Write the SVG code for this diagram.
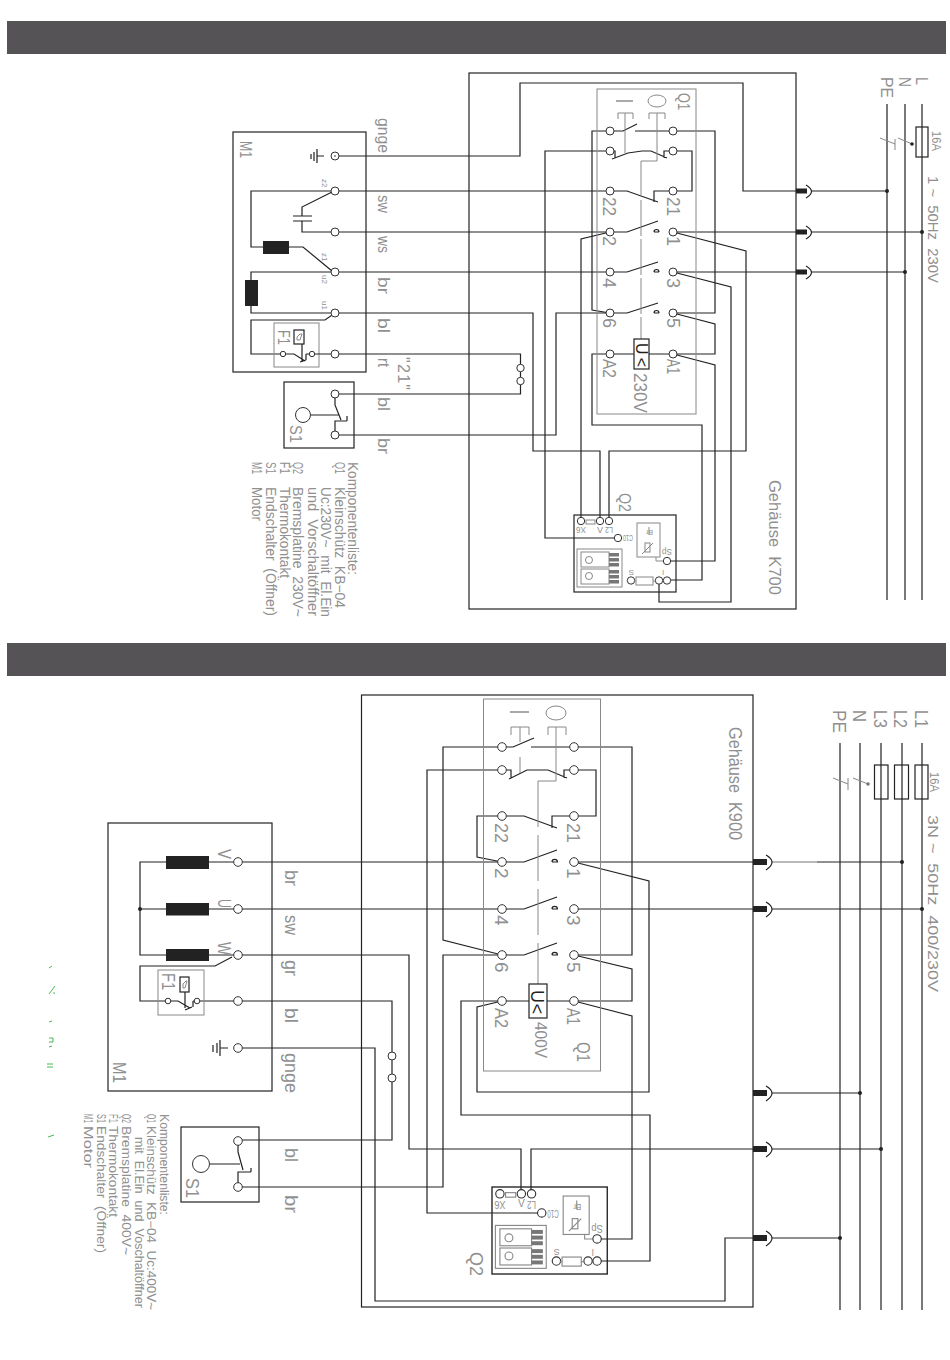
<svg xmlns="http://www.w3.org/2000/svg" width="950" height="1360" viewBox="0 0 950 1360">
<style>
.w{fill:none;stroke:#222;stroke-width:1.2}
.g{fill:none;stroke:#888;stroke-width:1}
.t{fill:#fff;stroke:#333;stroke-width:1}
.k{fill:#222;stroke:none}
.s{fill:#777;stroke:none}
.y{fill:none;stroke:#44bb55;stroke-width:1}
text{font-family:"Liberation Sans",Arial,sans-serif;fill:#909090;font-size:16px;white-space:pre}
.f8{font-size:8px}.f9{font-size:9px}.f12{font-size:12px}.f13{font-size:13px}.f14{font-size:14px}.f17{font-size:17px}.f18{font-size:18px}.f19{font-size:19px}
.dk{fill:#222}
</style>
<rect x="7" y="21" width="939" height="33" fill="#555355"/>
<rect x="7" y="643" width="939" height="33" fill="#555355"/>

<g id="wires-top">
<path class="w" d="M335,156H520V83H743V191H796"/>
<path class="w" d="M335,191H610M610,191H627L658,202M654,202V191H692V151H673"/>
<path class="w" d="M335,232H627L658,221M654,232H659M654,232a2.5,2.5 0 0 1 5,0M673,232H796"/>
<path class="w" d="M335,272H627L658,262M654,272H659M654,272a2.5,2.5 0 0 1 5,0M673,272H796"/>
<path class="w" d="M335,313H533V451H600V521"/>
<path class="w" d="M610,313H556V435H335M610,313H627L658,303M654,313H659M654,313a2.5,2.5 0 0 1 5,0"/>
<path class="w" d="M673,313H715V131H635"/>
<path class="w" d="M673,313L715,324V354H649M634,354H592V425H702V580H667"/>
<path class="w" d="M673,354L715,365V561H667"/>
<path class="w" d="M673,232L746,251V451H609V521"/>
<path class="w" d="M673,272L731,287V602H659V580"/>
<path class="w" d="M610,131H592V310L610,313M610,131H623L637,124"/>
<path class="w" d="M610,151H545V538H614L618,538"/>
<path class="w" d="M610,232L581,239V521"/>
<path class="w" d="M335,354H520.5V394H335"/>
<path class="w" d="M610,151H615V158M612,159L628,153L642,151H651L667,158M664,158V151H673"/>
<path class="w" d="M811,191H887M811,232H922M811,272H905"/>
</g>

<g id="wires-bottom">
<path class="w" d="M238,862H524L557,850M552,862H558M552,862a2.7,2.7 0 0 1 5.4,0M574,862H753"/>
<path class="w" d="M238,909H524L557,897M552,909H558M552,909a2.7,2.7 0 0 1 5.4,0M574,909H753"/>
<path class="w" d="M238,955H409V1149H521V1190"/>
<path class="w" d="M238,1001H392V1140H238"/>
<path class="w" d="M238,1048H375V1301H725V1238H753"/>
<path class="w" d="M238,1187H443V955H524L557,943M552,955H558M552,955a2.7,2.7 0 0 1 5.4,0"/>
<path class="w" d="M531,1190V1149H753"/>
<path class="w" d="M502,747H443V940L502,955M502,747H513L534,738M531,747H632V955H574"/>
<path class="w" d="M574,955L632,969V1001H547M529,1001H461V1115H650V1261H597"/>
<path class="w" d="M574,1001L632,1016V1239H597"/>
<path class="w" d="M502,1001L477,1007V1092H649V881L574,862"/>
<path class="w" d="M502,770H427V1213H538"/>
<path class="w" d="M502,770H511V778M509,779L527,770H548L567,778M564,778V770H574"/>
<path class="w" d="M502,816H477V857L502,862M502,816H524L557,828M552,828V816H596V770H574"/>
<path class="w" d="M817,862H902M772,909H922M772,1093H860M772,1149H881M772,1238H840"/>
<path d="M772,862H817" fill="none" stroke="#777" stroke-width="1.2"/>
</g>

<g id="enclosure-k700">
<rect class="w" x="469" y="73" width="327" height="536"/>
<text transform="translate(769,480) rotate(90)" class="f17" textLength="115" lengthAdjust="spacingAndGlyphs">Gehäuse  K700</text>
</g>

<g id="mains-top">
<path class="w" d="M887,104V600M905,104V600M922,104V600"/>
<rect class="w" x="916" y="127" width="12" height="30"/>
<path class="g" d="M912,144L898,138M880,138L895,144M895,139V150"/>
<circle cx="912" cy="144" r="1.8" class="k"/>
<circle cx="887" cy="191" r="2" class="k"/><circle cx="922" cy="232" r="2" class="k"/><circle cx="905" cy="272" r="2" class="k"/>
<text transform="translate(916,77) rotate(90)" class="f17" textLength="8" lengthAdjust="spacingAndGlyphs">L</text>
<text transform="translate(899,77) rotate(90)" class="f17" textLength="10" lengthAdjust="spacingAndGlyphs">N</text>
<text transform="translate(881,77) rotate(90)" class="f17" textLength="21" lengthAdjust="spacingAndGlyphs">PE</text>
<text transform="translate(932,131) rotate(90)" class="f13" textLength="20" lengthAdjust="spacingAndGlyphs">16A</text>
<text transform="translate(928,176) rotate(90)" class="f14" textLength="107" lengthAdjust="spacingAndGlyphs">1 ~  50Hz  230V</text>
</g>

<g id="terminals-top-conn">
<rect class="k" x="796" y="188.5" width="11" height="5"/><path class="w" d="M806,185Q817,191.5 806,198"/>
<rect class="k" x="796" y="229.5" width="11" height="5"/><path class="w" d="M806,226Q817,232.5 806,239"/>
<rect class="k" x="796" y="269.5" width="11" height="5"/><path class="w" d="M806,266Q817,272.5 806,279"/>
</g>

<g id="M1-top">
<rect class="w" x="233" y="132" width="133" height="240"/>
<path class="w" d="M324,156H317M317,149V163M314,152V161M311,154V159"/>
<path class="w" d="M335,191H251V247H263M289,247H303L332,271"/>
<path class="w" d="M332,192L302,207V216M293,216H312M293,221H312M302,221V232H335"/>
<rect class="k" x="263" y="241" width="26" height="13"/>
<rect class="k" x="245" y="280" width="13" height="26"/>
<path class="w" d="M335,272H251V280M251,306V313H335"/>
<path class="w" d="M335,313L325,320H251V354H281"/>
<rect class="g" x="274" y="323" width="45" height="44"/>
<rect class="w" x="294" y="330" width="10" height="14"/>
<path class="g" d="M297,337L300,334H302L300,340H297Z"/>
<path class="w" d="M286,354H294L305,361M302,344V362M300,362L306,360M306,354V360M306,354H310M315,354H335"/>
<circle class="t" cx="283" cy="354" r="2.7"/><circle class="t" cx="312" cy="354" r="2.7"/>
<circle class="t" cx="335" cy="156" r="4"/><circle cx="335" cy="156" r="0.8" class="k"/>
<circle class="t" cx="335" cy="191" r="4"/><circle class="t" cx="335" cy="232" r="4"/><circle class="t" cx="335" cy="272" r="4"/><circle class="t" cx="335" cy="313" r="4"/><circle class="t" cx="335" cy="354" r="4"/>
<text transform="translate(240,141) rotate(90)" textLength="17" lengthAdjust="spacingAndGlyphs">M1</text>
<text transform="translate(278,330) rotate(90)" textLength="15" lengthAdjust="spacingAndGlyphs">F1</text>
<text transform="translate(322,179) rotate(90)" class="f8">z2</text>
<text transform="translate(322,253) rotate(90)" class="f8">z1</text>
<text transform="translate(322,275) rotate(90)" class="f8">u2</text>
<text transform="translate(322,301) rotate(90)" class="f8">u1</text>
<text transform="translate(378,118) rotate(90)" textLength="35" lengthAdjust="spacingAndGlyphs">gnge</text>
<text transform="translate(378,195) rotate(90)" textLength="18" lengthAdjust="spacingAndGlyphs">sw</text>
<text transform="translate(378,236) rotate(90)" textLength="17" lengthAdjust="spacingAndGlyphs">ws</text>
<text transform="translate(378,277) rotate(90)" textLength="17" lengthAdjust="spacingAndGlyphs">br</text>
<text transform="translate(378,318) rotate(90)" textLength="15" lengthAdjust="spacingAndGlyphs">bl</text>
<text transform="translate(378,358) rotate(90)" textLength="9" lengthAdjust="spacingAndGlyphs">rt</text>
</g>

<g id="link-21-top">
<circle class="t" cx="520.5" cy="368" r="3.7"/><circle class="t" cx="520.5" cy="381" r="3.7"/>
<text transform="translate(398,357) rotate(90)" textLength="33">"21"</text>
</g>

<g id="S1-top">
<rect class="w" x="284" y="382" width="70" height="66"/>
<circle class="t" cx="303" cy="415" r="7.5"/>
<path class="w" d="M311,415H339M335,398V405L341,420M335,431V421H347M347,421V416"/>
<circle class="t" cx="335" cy="394" r="4"/><circle class="t" cx="335" cy="435" r="4"/>
<text transform="translate(290,425) rotate(90)" textLength="18" lengthAdjust="spacingAndGlyphs">S1</text>
<text transform="translate(378,397) rotate(90)" textLength="14" lengthAdjust="spacingAndGlyphs">bl</text>
<text transform="translate(378,438) rotate(90)" textLength="16" lengthAdjust="spacingAndGlyphs">br</text>
</g>

<g id="parts-list-top">
<text transform="translate(348,462) rotate(90)" class="f14" textLength="113" lengthAdjust="spacingAndGlyphs">Komponentenliste:</text>
<text transform="translate(335,462) rotate(90)" class="f14" textLength="12" lengthAdjust="spacingAndGlyphs">Q1</text>
<text transform="translate(335,487) rotate(90)" class="f14" textLength="121" lengthAdjust="spacingAndGlyphs">Kleinschütz  KB−04</text>
<text transform="translate(321,487) rotate(90)" class="f14" textLength="130" lengthAdjust="spacingAndGlyphs">Uc:230V~  mit  El.Ein</text>
<text transform="translate(308,487) rotate(90)" class="f14" textLength="129" lengthAdjust="spacingAndGlyphs">und  Vorschaltöffner</text>
<text transform="translate(293,462) rotate(90)" class="f14" textLength="12" lengthAdjust="spacingAndGlyphs">Q2</text>
<text transform="translate(293,487) rotate(90)" class="f14" textLength="130" lengthAdjust="spacingAndGlyphs">Bremsplatine  230V~</text>
<text transform="translate(280,462) rotate(90)" class="f14" textLength="12" lengthAdjust="spacingAndGlyphs">F1</text>
<text transform="translate(280,487) rotate(90)" class="f14" textLength="91" lengthAdjust="spacingAndGlyphs">Thermokontakt</text>
<text transform="translate(266,462) rotate(90)" class="f14" textLength="12" lengthAdjust="spacingAndGlyphs">S1</text>
<text transform="translate(266,487) rotate(90)" class="f14" textLength="129" lengthAdjust="spacingAndGlyphs">Endschalter  (Öffner)</text>
<text transform="translate(252,462) rotate(90)" class="f14" textLength="12" lengthAdjust="spacingAndGlyphs">M1</text>
<text transform="translate(252,487) rotate(90)" class="f14" textLength="34" lengthAdjust="spacingAndGlyphs">Motor</text>
</g>

<g id="Q1-top">
<rect class="g" x="597" y="89" width="99" height="325"/>
<path d="M616,101H633" stroke="#555" stroke-width="1" fill="none"/>
<ellipse class="g" cx="657" cy="101" rx="9" ry="6" stroke-width="1.2"/>
<path class="g" d="M618,119V113H633V119M625,113V153M649,119V113H665V119M657,113V161H641"/>
<path class="g" d="M641,161V339" stroke-dasharray="36 3"/>
<rect x="634" y="339" width="15" height="30" fill="#fff" stroke="#222" stroke-width="1.2"/>
<text transform="translate(636,343) rotate(90)" class="dk" textLength="24">U&lt;</text>
<circle class="t" cx="610" cy="131" r="4"/><circle class="t" cx="673" cy="131" r="4"/>
<circle class="t" cx="610" cy="151" r="4"/><circle class="t" cx="673" cy="151" r="4"/>
<circle class="t" cx="610" cy="191" r="4"/><circle class="t" cx="673" cy="191" r="4"/>
<circle class="t" cx="610" cy="232" r="4"/><circle class="t" cx="673" cy="232" r="4"/>
<circle class="t" cx="610" cy="272" r="4"/><circle class="t" cx="673" cy="272" r="4"/>
<circle class="t" cx="610" cy="313" r="4"/><circle class="t" cx="673" cy="313" r="4"/>
<circle class="t" cx="610" cy="354" r="4"/><circle class="t" cx="673" cy="354" r="4"/>
<text transform="translate(678,93) rotate(90)" textLength="17" lengthAdjust="spacingAndGlyphs">Q1</text>
<text transform="translate(603,197) rotate(90)" class="f18" textLength="19" lengthAdjust="spacingAndGlyphs">22</text>
<text transform="translate(667,197) rotate(90)" class="f18" textLength="19" lengthAdjust="spacingAndGlyphs">21</text>
<text transform="translate(603,236) rotate(90)" class="f18">2</text>
<text transform="translate(667,236) rotate(90)" class="f18">1</text>
<text transform="translate(603,278) rotate(90)" class="f18">4</text>
<text transform="translate(667,278) rotate(90)" class="f18">3</text>
<text transform="translate(603,318) rotate(90)" class="f18">6</text>
<text transform="translate(667,318) rotate(90)" class="f18">5</text>
<text transform="translate(603,359) rotate(90)" class="f18" textLength="19" lengthAdjust="spacingAndGlyphs">A2</text>
<text transform="translate(667,359) rotate(90)" class="f18" textLength="15" lengthAdjust="spacingAndGlyphs">A1</text>
<text transform="translate(634,373) rotate(90)" class="f18" textLength="40" lengthAdjust="spacingAndGlyphs">230V</text>
</g>

<g id="Q2-top">
<rect class="w" x="574" y="515" width="102" height="77"/>
<rect class="g" x="586" y="520" width="9" height="4"/>
<circle class="t" cx="581" cy="521" r="3.7"/><circle class="t" cx="600" cy="521" r="3.7"/><circle class="t" cx="609" cy="521" r="3.7"/>
<circle class="t" cx="618" cy="538" r="3.7"/>
<rect class="g" x="637" y="523" width="23" height="34"/>
<rect class="g" x="645" y="543" width="5" height="9"/>
<path class="g" d="M642,554L653,543M649,527V535M656,557V561H663"/>
<circle class="t" cx="667" cy="561" r="3.7"/><circle class="t" cx="667" cy="580.5" r="3.7"/><circle class="t" cx="659" cy="580.5" r="3.7"/><circle class="t" cx="631" cy="580.5" r="3.7"/>
<rect class="g" x="636" y="577" width="17" height="8"/>
<path class="g" d="M653,581H655M634,581H636"/>
<rect class="g" x="577" y="549" width="45" height="38"/>
<rect class="g" x="581" y="552" width="28" height="15"/>
<rect class="g" x="581" y="569" width="28" height="15"/>
<circle class="g" cx="589" cy="560" r="3.5"/><circle class="g" cx="589" cy="576" r="3.5"/>
<rect class="s" x="609" y="553" width="10" height="3.5"/><rect class="s" x="609" y="558" width="10" height="3.5"/><rect class="s" x="609" y="563" width="10" height="3.5"/>
<rect class="s" x="609" y="570" width="10" height="3.5"/><rect class="s" x="609" y="575" width="10" height="3.5"/><rect class="s" x="609" y="580" width="10" height="3.5"/>
<text transform="translate(586,527) rotate(180)" class="f9" textLength="10" lengthAdjust="spacingAndGlyphs">X6</text>
<text x="597" y="533" class="f9">V</text>
<text transform="translate(613,527) rotate(180)" class="f9" textLength="8" lengthAdjust="spacingAndGlyphs">L2</text>
<text transform="translate(633,535) rotate(180)" class="f9" textLength="10" lengthAdjust="spacingAndGlyphs">C10</text>
<text transform="translate(653,530) rotate(180)" class="f8" textLength="7" lengthAdjust="spacingAndGlyphs">Br</text>
<text transform="translate(672,549) rotate(180)" class="f9" textLength="10" lengthAdjust="spacingAndGlyphs">Sp</text>
<text transform="translate(664,570) rotate(180)" class="f8">l</text>
<text transform="translate(634,570) rotate(180)" class="f8">S</text>
<text transform="translate(619,493) rotate(90)" textLength="19" lengthAdjust="spacingAndGlyphs">Q2</text>
</g>

<g id="enclosure-k900">
<rect class="w" x="361.5" y="695" width="391.5" height="612"/>
<text transform="translate(729,727) rotate(90)" class="f18" textLength="113" lengthAdjust="spacingAndGlyphs">Gehäuse  K900</text>
</g>

<g id="mains-bottom">
<path class="w" d="M922,743V1310M902,743V1310M881,743V1310M860,743V1310M840,743V1310"/>
<rect class="w" x="915" y="765" width="13" height="34"/>
<rect class="w" x="894.500" y="765" width="14" height="34"/>
<rect class="w" x="874.500" y="765" width="13.500" height="34"/>
<path class="g" d="M868,784L853,778M833,778L848,784M848,778V790"/>
<circle cx="868" cy="784" r="1.800" fill="#777"/>
<circle cx="902" cy="862" r="2" class="k"/><circle cx="922" cy="909" r="2" class="k"/><circle cx="860" cy="1093" r="2" class="k"/><circle cx="881" cy="1149" r="2" class="k"/><circle cx="840" cy="1238" r="2" class="k"/>
<text transform="translate(915,710) rotate(90)" class="f19" textLength="18" lengthAdjust="spacingAndGlyphs">L1</text>
<text transform="translate(894,710) rotate(90)" class="f19" textLength="18" lengthAdjust="spacingAndGlyphs">L2</text>
<text transform="translate(874,710) rotate(90)" class="f19" textLength="18" lengthAdjust="spacingAndGlyphs">L3</text>
<text transform="translate(853,710) rotate(90)" class="f19" textLength="12" lengthAdjust="spacingAndGlyphs">N</text>
<text transform="translate(833,710) rotate(90)" class="f19" textLength="23" lengthAdjust="spacingAndGlyphs">PE</text>
<text transform="translate(930,772) rotate(90)" class="f13" textLength="20" lengthAdjust="spacingAndGlyphs">16A</text>
<text transform="translate(928,815) rotate(90)" class="f14" textLength="177" lengthAdjust="spacingAndGlyphs">3N ~  50Hz  400/230V</text>
</g>

<g id="terminals-bottom-conn">
<rect class="k" x="753" y="859" width="14" height="6"/><path class="w" d="M766,855Q778,862 766,870"/>
<rect class="k" x="753" y="906" width="14" height="6"/><path class="w" d="M766,902Q778,909 766,917"/>
<rect class="k" x="753" y="1090" width="14" height="6"/><path class="w" d="M766,1086Q778,1093 766,1101"/>
<rect class="k" x="753" y="1146" width="14" height="6"/><path class="w" d="M766,1142Q778,1149 766,1157"/>
<rect class="k" x="753" y="1235" width="14" height="6"/><path class="w" d="M766,1231Q778,1238 766,1246"/>
</g>

<g id="M1-bottom">
<rect class="w" x="108" y="823" width="164" height="268"/>
<path class="w" d="M238,862H140V955H238M140,909H238"/>
<rect class="k" x="166" y="856" width="43" height="13"/>
<rect class="k" x="166" y="903" width="43" height="12.500"/>
<rect class="k" x="166" y="949" width="43" height="12"/>
<circle cx="140" cy="909" r="2" class="k"/>
<path class="w" d="M232,957L215,966H140V1001H165M199,1001H238"/>
<rect class="g" x="158" y="970" width="46" height="45"/>
<rect class="w" x="180" y="977" width="9" height="15"/>
<path class="g" d="M183,984L186,981H187L185,988H183Z"/>
<path class="w" d="M171,1001H178L190,1008M185,992V1008M185,1010L192,1007M193,1001V1007M193,1001H195"/>
<circle class="t" cx="168" cy="1001" r="2.800"/><circle class="t" cx="197" cy="1001" r="2.800"/>
<path class="w" d="M228,1048H220M220,1040V1056M217,1043V1053M213,1045V1052"/>
<circle class="t" cx="238" cy="862" r="4.300"/><circle class="t" cx="238" cy="909" r="4.300"/><circle class="t" cx="238" cy="955" r="4.300"/><circle class="t" cx="238" cy="1001" r="4.300"/><circle class="t" cx="238" cy="1048" r="4.300"/>
<text transform="translate(113,1062) rotate(90)" class="f19" textLength="21" lengthAdjust="spacingAndGlyphs">M1</text>
<text transform="translate(162,973) rotate(90)" class="f19" textLength="17" lengthAdjust="spacingAndGlyphs">F1</text>
<text transform="translate(218,849) rotate(90)" class="f18" textLength="10" lengthAdjust="spacingAndGlyphs">V</text>
<text transform="translate(218,899) rotate(90)" class="f18" textLength="9" lengthAdjust="spacingAndGlyphs">U</text>
<text transform="translate(218,942) rotate(90)" class="f18" textLength="13" lengthAdjust="spacingAndGlyphs">W</text>
<text transform="translate(285,870) rotate(90)" class="f18" textLength="16" lengthAdjust="spacingAndGlyphs">br</text>
<text transform="translate(285,915) rotate(90)" class="f18" textLength="20" lengthAdjust="spacingAndGlyphs">sw</text>
<text transform="translate(285,960) rotate(90)" class="f18" textLength="16" lengthAdjust="spacingAndGlyphs">gr</text>
<text transform="translate(285,1008) rotate(90)" class="f18" textLength="15" lengthAdjust="spacingAndGlyphs">bl</text>
<text transform="translate(285,1053) rotate(90)" class="f18" textLength="40" lengthAdjust="spacingAndGlyphs">gnge</text>
</g>

<g id="link-bottom">
<circle class="t" cx="392" cy="1056" r="4"/><circle class="t" cx="392" cy="1078" r="4"/>
</g>

<g id="S1-bottom">
<rect class="w" x="181" y="1127" width="78" height="75"/>
<circle class="t" cx="201" cy="1164" r="8.500"/>
<path class="w" d="M210,1164H240M238,1145V1152L243,1170M238,1183V1172H251M251,1172V1168"/>
<circle class="t" cx="238" cy="1141" r="4.300"/><circle class="t" cx="238" cy="1187" r="4.300"/>
<text transform="translate(186,1178) rotate(90)" class="f19" textLength="20" lengthAdjust="spacingAndGlyphs">S1</text>
<text transform="translate(285,1148) rotate(90)" class="f18" textLength="14" lengthAdjust="spacingAndGlyphs">bl</text>
<text transform="translate(285,1195) rotate(90)" class="f18" textLength="18" lengthAdjust="spacingAndGlyphs">br</text>
</g>

<g id="parts-list-bottom">
<text transform="translate(160,1114) rotate(90)" class="f12" textLength="101" lengthAdjust="spacingAndGlyphs">Komponentenliste:</text>
<text transform="translate(147,1114) rotate(90)" class="f12" textLength="9" lengthAdjust="spacingAndGlyphs">Q1</text>
<text transform="translate(147,1126) rotate(90)" class="f12" textLength="184" lengthAdjust="spacingAndGlyphs">Kleinschütz  KB−04  Uc:400V~</text>
<text transform="translate(135,1137) rotate(90)" class="f12" textLength="171" lengthAdjust="spacingAndGlyphs">mit  El.Ein  und  Voschaltöffner</text>
<text transform="translate(122,1114) rotate(90)" class="f12" textLength="9" lengthAdjust="spacingAndGlyphs">Q2</text>
<text transform="translate(122,1126) rotate(90)" class="f12" textLength="129" lengthAdjust="spacingAndGlyphs">Bremsplatine  400V~</text>
<text transform="translate(109,1114) rotate(90)" class="f12" textLength="9" lengthAdjust="spacingAndGlyphs">F1</text>
<text transform="translate(109,1126) rotate(90)" class="f12" textLength="91" lengthAdjust="spacingAndGlyphs">Thermokontakt</text>
<text transform="translate(97,1114) rotate(90)" class="f12" textLength="9" lengthAdjust="spacingAndGlyphs">S1</text>
<text transform="translate(97,1126) rotate(90)" class="f12" textLength="127" lengthAdjust="spacingAndGlyphs">Endschalter  (Öffner)</text>
<text transform="translate(84,1114) rotate(90)" class="f12" textLength="9" lengthAdjust="spacingAndGlyphs">M1</text>
<text transform="translate(84,1126) rotate(90)" class="f12" textLength="42" lengthAdjust="spacingAndGlyphs">Motor</text>
</g>

<g id="Q1-bottom">
<rect class="g" x="483.500" y="699" width="117" height="372"/>
<path d="M510,712H529" stroke="#555" stroke-width="1" fill="none"/>
<ellipse class="g" cx="556" cy="713" rx="10" ry="7" stroke-width="1.2"/>
<path class="g" d="M511,735V727H529V735M520,727V742M520,757V773M548,735V727H566V735M556,727V781H538"/>
<path class="g" d="M538,781V984" stroke-dasharray="46 8"/>
<rect x="529" y="984" width="18" height="34" fill="#fff" stroke="#222" stroke-width="1.200"/>
<text transform="translate(531,990) rotate(90)" class="dk f18" textLength="24">U&lt;</text>
<circle class="t" cx="502" cy="747" r="4.300"/><circle class="t" cx="574" cy="747" r="4.300"/>
<circle class="t" cx="502" cy="770" r="4.300"/><circle class="t" cx="574" cy="770" r="4.300"/>
<circle class="t" cx="502" cy="816" r="4.300"/><circle class="t" cx="574" cy="816" r="4.300"/>
<circle class="t" cx="502" cy="862" r="4.300"/><circle class="t" cx="574" cy="862" r="4.300"/>
<circle class="t" cx="502" cy="909" r="4.300"/><circle class="t" cx="574" cy="909" r="4.300"/>
<circle class="t" cx="502" cy="955" r="4.300"/><circle class="t" cx="574" cy="955" r="4.300"/>
<circle class="t" cx="502" cy="1001" r="4.300"/><circle class="t" cx="574" cy="1001" r="4.300"/>
<text transform="translate(495,823) rotate(90)" class="f19" textLength="20" lengthAdjust="spacingAndGlyphs">22</text>
<text transform="translate(567,823) rotate(90)" class="f19" textLength="20" lengthAdjust="spacingAndGlyphs">21</text>
<text transform="translate(495,868) rotate(90)" class="f19">2</text>
<text transform="translate(567,868) rotate(90)" class="f19">1</text>
<text transform="translate(495,915) rotate(90)" class="f19">4</text>
<text transform="translate(567,915) rotate(90)" class="f19">3</text>
<text transform="translate(495,962) rotate(90)" class="f19">6</text>
<text transform="translate(567,962) rotate(90)" class="f19">5</text>
<text transform="translate(495,1008) rotate(90)" class="f19" textLength="20" lengthAdjust="spacingAndGlyphs">A2</text>
<text transform="translate(567,1008) rotate(90)" class="f19" textLength="17" lengthAdjust="spacingAndGlyphs">A1</text>
<text transform="translate(535,1022) rotate(90)" class="f17" textLength="36" lengthAdjust="spacingAndGlyphs">400V</text>
<text transform="translate(577,1042) rotate(90)" class="f19" textLength="20" lengthAdjust="spacingAndGlyphs">Q1</text>
</g>

<g id="Q2-bottom">
<g transform="translate(492,1187) scale(1.13) translate(-574,-515)">
<rect class="w" x="574" y="515" width="102" height="77"/>
<rect class="g" x="586" y="520" width="9" height="4"/>
<circle class="t" cx="581" cy="521" r="3.700"/><circle class="t" cx="600" cy="521" r="3.700"/><circle class="t" cx="609" cy="521" r="3.700"/>
<circle class="t" cx="618" cy="538" r="3.700"/>
<rect class="g" x="637" y="523" width="23" height="34"/>
<rect class="g" x="645" y="543" width="5" height="9"/>
<path class="g" d="M642,554L653,543M649,527V535M656,557V561H663"/>
<circle class="t" cx="667" cy="561" r="3.700"/><circle class="t" cx="667" cy="580.5" r="3.700"/><circle class="t" cx="659" cy="580.5" r="3.700"/><circle class="t" cx="631" cy="580.5" r="3.700"/>
<rect class="g" x="636" y="577" width="17" height="8"/>
<path class="g" d="M653,581H655M634,581H636"/>
<rect class="g" x="577" y="549" width="45" height="38"/>
<rect class="g" x="581" y="552" width="28" height="15"/>
<rect class="g" x="581" y="569" width="28" height="15"/>
<circle class="g" cx="589" cy="560" r="3.500"/><circle class="g" cx="589" cy="576" r="3.500"/>
<rect class="s" x="609" y="553" width="10" height="3.500"/><rect class="s" x="609" y="558" width="10" height="3.500"/><rect class="s" x="609" y="563" width="10" height="3.500"/>
<rect class="s" x="609" y="570" width="10" height="3.500"/><rect class="s" x="609" y="575" width="10" height="3.500"/><rect class="s" x="609" y="580" width="10" height="3.500"/>
<text transform="translate(586,527) rotate(180)" class="f9" textLength="10" lengthAdjust="spacingAndGlyphs">X6</text>
<text x="597" y="533" class="f9">V</text>
<text transform="translate(613,527) rotate(180)" class="f9" textLength="8" lengthAdjust="spacingAndGlyphs">L2</text>
<text transform="translate(633,535) rotate(180)" class="f9" textLength="10" lengthAdjust="spacingAndGlyphs">C10</text>
<text transform="translate(653,530) rotate(180)" class="f8" textLength="7" lengthAdjust="spacingAndGlyphs">Br</text>
<text transform="translate(672,549) rotate(180)" class="f9" textLength="10" lengthAdjust="spacingAndGlyphs">Sp</text>
<text transform="translate(664,570) rotate(180)" class="f8">l</text>
<text transform="translate(634,570) rotate(180)" class="f8">S</text>
</g>
<text transform="translate(470,1252) rotate(90)" class="f19" textLength="24" lengthAdjust="spacingAndGlyphs">Q2</text>
</g>

<path class="y" d="M49,968L52,966M49,994L55,986M54,992V994M49,1022L52,1021M49,1038H53V1042H49M49,1047L52,1046M47,1064H53M47,1067H53M48,1137L54,1135"/>
</svg>
